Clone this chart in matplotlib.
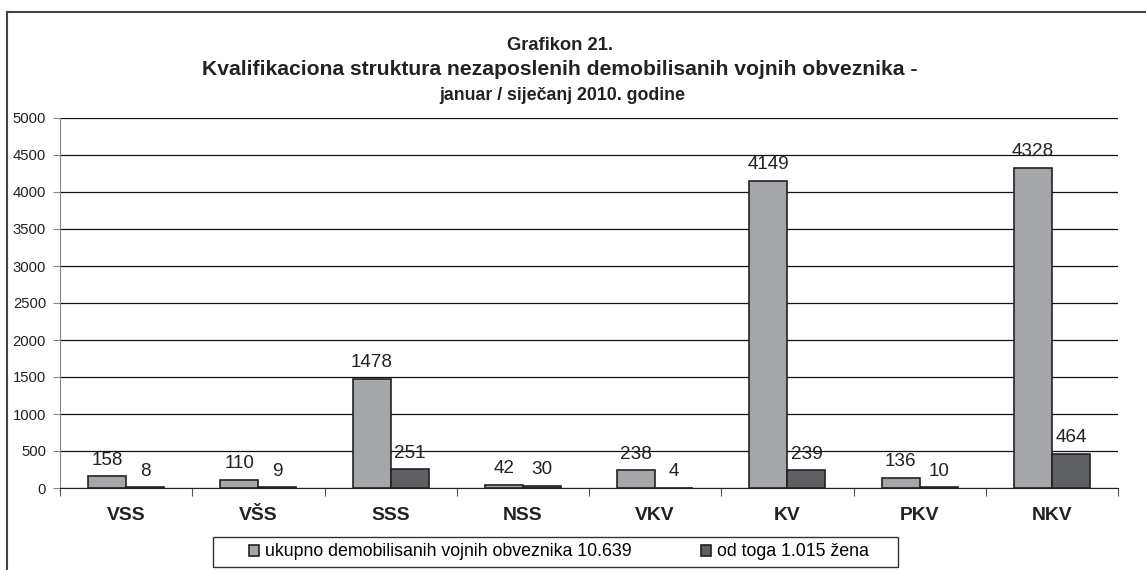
import numpy as np
import matplotlib.pyplot as plt
from matplotlib.patches import Rectangle

plt.rcParams['font.family'] = ['Liberation Sans', 'DejaVu Sans']

kategorije = ['VSS', 'VŠS', 'SSS', 'NSS', 'VKV', 'KV', 'PKV', 'NKV']
ukupno = [158, 110, 1478, 42, 238, 4149, 136, 4328]
zene = [8, 9, 251, 30, 4, 239, 10, 464]
y_ticks = np.arange(0, 5001, 500)

W, H = 1146, 570
fig = plt.figure(figsize=(W / 100, H / 100), dpi=100)
ax = fig.add_axes([60 / W, 1 - 488 / H, (1118 - 60) / W, (488 - 118) / H])

# okvir oko cijelog grafikona
fig.patches.append(Rectangle((7 / W, -0.1), 1.2, 1 - 12 / H + 0.1,
                             transform=fig.transFigure, fill=False,
                             edgecolor='#444444', linewidth=1.5))

x = np.arange(len(kategorije))
w = 0.2875
b1 = ax.bar(x - w / 2, ukupno, w, color='#a5a6a9', edgecolor='#222222', linewidth=1.2,
            label='ukupno demobilisanih vojnih obveznika 10.639', zorder=3)
b2 = ax.bar(x + w / 2, zene, w, color='#5f6064', edgecolor='#222222', linewidth=1.2,
            label='od toga 1.015 žena', zorder=3)

for bars in (b1, b2):
    for r in bars:
        ax.annotate(str(int(r.get_height())), (r.get_x() + r.get_width() / 2, r.get_height()),
                    xytext=(0, 5.5), textcoords='offset points', ha='center', va='bottom',
                    fontsize=13.6, color='#222222', zorder=4)

ax.set_xlim(-0.5, len(kategorije) - 0.5)
ax.set_ylim(0, 5000)
ax.set_yticks(y_ticks)
ax.set_yticklabels([str(v) for v in y_ticks], fontsize=10.7, color='#222222')
ax.yaxis.grid(True, color='#111111', linewidth=0.9, zorder=0)
ax.tick_params(axis='y', length=5, color='#888888', pad=5)

ax.set_xticks(np.arange(len(kategorije) + 1) - 0.5)
ax.set_xticklabels([])
ax.tick_params(axis='x', length=6, direction='out', color='#555555')
for i, k in enumerate(kategorije):
    ax.text(i, -28 / 370, k, transform=ax.get_xaxis_transform(), ha='center', va='center',
            fontsize=13.9, fontweight='bold', color='#222222')

for s in ['top', 'right']:
    ax.spines[s].set_visible(False)
ax.spines['left'].set_color('#888888')
ax.spines['bottom'].set_color('#222222')

cx = 560 / W
fig.text(cx, 1 - 46 / H, 'Grafikon 21.', ha='center', va='center',
         fontsize=13.2, fontweight='bold', color='#222222')
fig.text(cx, 1 - 70 / H, 'Kvalifikaciona struktura nezaposlenih demobilisanih vojnih obveznika -',
         ha='center', va='center', fontsize=15.2, fontweight='bold', color='#222222')
fig.text(562 / W, 1 - 96 / H, 'januar / siječanj 2010. godine', ha='center', va='center',
         fontsize=12.8, fontweight='bold', color='#222222')

# legenda s ručno nacrtanim okvirom
fig.patches.append(Rectangle((213 / W, 1 - 567 / H), (898 - 213) / W, 30 / H,
                             transform=fig.transFigure, fill=True, facecolor='white',
                             edgecolor='#333333', linewidth=1.0))
leg = fig.legend(loc='center', bbox_to_anchor=(559 / W, 1 - 552 / H),
                 ncol=2, fontsize=12.8, frameon=False,
                 handlelength=0.55, handleheight=0.55, handletextpad=0.35, columnspacing=3.9,
                 borderpad=0.0)

fig.savefig('out.png', dpi=100)
